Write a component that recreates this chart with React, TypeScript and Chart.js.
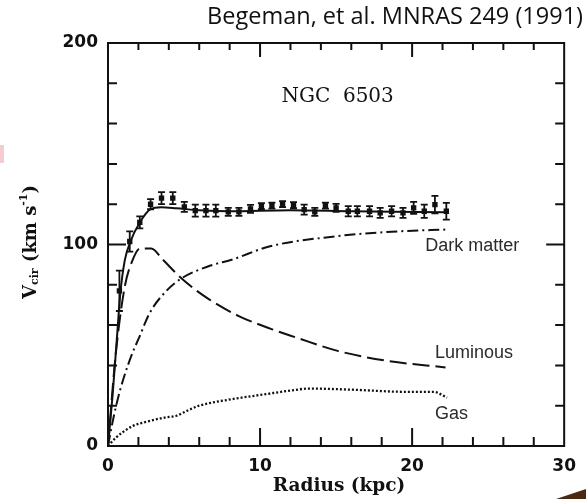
import React, { useEffect, useRef } from "react";
import { Chart, registerables } from "chart.js";

Chart.register(...registerables);

// Observed rotation curve of NGC 6503 (radius in kpc, velocity in km/s)
const RADIUS = [0.75, 1.43, 2.09, 2.8, 3.52, 4.26, 5.02, 5.74, 6.44, 7.09, 7.91, 8.61, 9.37, 10.09, 10.78, 11.48, 12.2, 12.9, 13.6, 14.3, 15.0, 15.8, 16.4, 17.2, 17.9, 18.65, 19.4, 20.1, 20.8, 21.5, 22.25];
const VELOCITY = [77, 101.5, 111, 120, 123, 123, 118.7, 116.8, 116.8, 116.8, 116.2, 116.2, 117.7, 119, 119.3, 120, 119.5, 117.3, 116.2, 119.3, 118.2, 116.5, 116.5, 116.5, 115.7, 116.5, 115.7, 118.2, 116.5, 119.8, 116.5];
const VEL_ERR = [10, 5, 3, 2.5, 3, 3, 2.5, 3, 3, 3, 2, 2, 2, 1.5, 1.5, 1.5, 1.5, 2.5, 2, 1.5, 2, 2.5, 2.5, 2.5, 2.5, 2.5, 2.5, 3, 3.3, 4.3, 4.2];

// Model components
const TOTAL_R = [0, 0.3, 0.6, 0.8, 1.1, 1.45, 2.1, 2.8, 3.5, 4.5, 6, 8, 12, 16, 22.3];
const TOTAL_V = [0, 25, 55, 75, 92, 101, 111, 117.5, 118.5, 118, 117, 116.5, 117, 116.5, 116];

const LUM_R = [0, 0.5, 1.1, 1.55, 2.1, 2.85, 3.6, 4.9, 6.65, 8.6, 10.8, 12.5, 15.1, 18.4, 22.2];
const LUM_V = [0, 45, 79, 91, 98, 98, 92.5, 82.7, 72.8, 64.5, 57.9, 53.5, 47.2, 42.2, 39];

const DARK_R = [0, 0.25, 0.6, 1.0, 1.65, 2.0, 2.74, 3.83, 4.9, 6.65, 8.2, 10.6, 14.9, 19.3, 22.2];
const DARK_V = [0, 10, 22, 33, 47, 53, 66, 76.9, 83.5, 89.3, 92.6, 99, 104, 106.6, 107.4];

const GAS_R = [0, 0.5, 1.0, 1.65, 2.5, 3.8, 4.5, 5.2, 6, 8.2, 10.35, 12, 13.2, 16.2, 19.5, 21.4, 22.3];
const GAS_V = [0, 4, 7, 10, 12, 14.2, 15, 17.5, 20, 23.3, 25.7, 27.5, 28.5, 27.9, 26.9, 26.9, 24];

// Axis ranges and tick spacing
const X_RANGE = [0, 30];
const Y_RANGE = [0, 200];
const X_MINOR = 2;
const X_MAJOR = 10;
const Y_MINOR = 20;
const Y_MAJOR = 100;

// Curve labels: [text, radius, velocity]
const CURVE_LABELS: [string, number, number][] = [
  ["Dark matter", 20.87, 99.3],
  ["Luminous", 21.5, 46.2],
  ["Gas", 21.5, 15.9],
];

const INK = "#111";

const pts = (xs: number[], ys: number[]) => xs.map((x, i) => ({ x, y: ys[i] }));

const decorations = {
  id: "decorations",
  beforeDraw(chart: any) {
    const { ctx, width, height } = chart;
    ctx.save();
    ctx.fillStyle = "#fff";
    ctx.fillRect(0, 0, width, height);
    // stray slide fragments at the edges
    ctx.fillStyle = "#f3cdd1";
    ctx.fillRect(0, 145, 4, 18);
    ctx.fillStyle = "#4a2a12";
    ctx.beginPath();
    ctx.moveTo(556, 499);
    ctx.lineTo(586, 489);
    ctx.lineTo(586, 499);
    ctx.closePath();
    ctx.fill();
    ctx.restore();
  },
  afterDatasetsDraw(chart: any) {
    const { ctx, chartArea: a, scales } = chart;
    const xs = scales.x;
    const ys = scales.y;
    ctx.save();

    // error bars
    ctx.strokeStyle = INK;
    ctx.lineWidth = 1.8;
    RADIUS.forEach((r, i) => {
      const px = xs.getPixelForValue(r);
      const t = ys.getPixelForValue(VELOCITY[i] + VEL_ERR[i]);
      const b = ys.getPixelForValue(VELOCITY[i] - VEL_ERR[i]);
      ctx.beginPath();
      ctx.moveTo(px, t);
      ctx.lineTo(px, b);
      ctx.moveTo(px - 3.5, t);
      ctx.lineTo(px + 3.5, t);
      ctx.moveTo(px - 3.5, b);
      ctx.lineTo(px + 3.5, b);
      ctx.stroke();
    });

    // frame
    ctx.lineWidth = 2;
    ctx.strokeRect(a.left, a.top, a.right - a.left, a.bottom - a.top);

    // inward ticks on all four sides
    ctx.beginPath();
    for (let v = X_RANGE[0] + X_MINOR; v < X_RANGE[1]; v += X_MINOR) {
      const px = xs.getPixelForValue(v);
      const major = v % X_MAJOR === 0;
      ctx.moveTo(px, a.bottom);
      ctx.lineTo(px, a.bottom - (major ? 18 : 9));
      ctx.moveTo(px, a.top);
      ctx.lineTo(px, a.top + (major ? 14 : 7));
    }
    for (let v = Y_RANGE[0] + Y_MINOR; v < Y_RANGE[1]; v += Y_MINOR) {
      const py = ys.getPixelForValue(v);
      const major = v % Y_MAJOR === 0;
      ctx.moveTo(a.left, py);
      ctx.lineTo(a.left + (major ? 18 : 9), py);
      ctx.moveTo(a.right, py);
      ctx.lineTo(a.right - (major ? 18 : 9), py);
    }
    ctx.stroke();

    // curve labels
    ctx.fillStyle = "#2b2b2b";
    ctx.font = "18px 'Liberation Sans', Arial, sans-serif";
    ctx.textBaseline = "middle";
    ctx.textAlign = "left";
    CURVE_LABELS.forEach(([t, r, v]) => {
      ctx.fillText(t, xs.getPixelForValue(r), ys.getPixelForValue(v));
    });

    // galaxy name
    ctx.fillStyle = INK;
    ctx.font = "20px 'DejaVu Serif', serif";
    ctx.textAlign = "center";
    ctx.fillText("NGC  6503", xs.getPixelForValue(15.1), ys.getPixelForValue(173.2));

    // x-axis title
    ctx.font = "bold 18.5px 'DejaVu Serif', serif";
    ctx.textAlign = "center";
    ctx.fillText("Radius (kpc)", 339, 486);

    // y-axis title with subscript and superscript
    const big = "bold 18px 'DejaVu Serif', serif";
    const small = "bold 11px 'DejaVu Serif', serif";
    const parts: [string, string, number][] = [
      ["V", big, 0],
      ["cir", small, 4],
      [" (km s", big, 0],
      ["-1", small, -7],
      [")", big, 0],
    ];
    let total = 0;
    parts.forEach(([t, f]) => {
      ctx.font = f;
      total += ctx.measureText(t).width;
    });
    ctx.translate(31, 242);
    ctx.rotate(-Math.PI / 2);
    ctx.textAlign = "left";
    let cx = -total / 2;
    parts.forEach(([t, f, dy]) => {
      ctx.font = f;
      ctx.fillText(t, cx, dy);
      cx += ctx.measureText(t).width;
    });
    ctx.restore();

    // citation
    ctx.save();
    ctx.fillStyle = INK;
    ctx.font = "23.5px 'Open Sans', sans-serif";
    ctx.textAlign = "right";
    ctx.textBaseline = "alphabetic";
    ctx.fillText("Begeman, et al. MNRAS 249 (1991)", 583, 24);
    ctx.restore();
  },
};

export default function App() {
  const ref = useRef<HTMLCanvasElement | null>(null);

  useEffect(() => {
    if (!ref.current) return;
    const tickFont = { family: "'DejaVu Sans', sans-serif", size: 17, weight: "bold" as const };
    const line = (data: any, dash: number[], width = 2) => ({
      data,
      showLine: true,
      borderColor: INK,
      borderWidth: width,
      borderDash: dash,
      pointRadius: 0,
      fill: false,
      cubicInterpolationMode: "monotone" as const,
    });
    const chart = new Chart(ref.current, {
      type: "scatter",
      data: {
        datasets: [
          line(pts(TOTAL_R, TOTAL_V), []),
          line(pts(LUM_R, LUM_V), [17, 6]),
          line(pts(DARK_R, DARK_V), [11, 4, 2, 4]),
          line(pts(GAS_R, GAS_V), [2, 2], 2.3),
          {
            data: pts(RADIUS, VELOCITY),
            showLine: false,
            pointStyle: "rect",
            pointRadius: 3.8,
            backgroundColor: INK,
            borderColor: INK,
            borderWidth: 0,
          },
        ],
      },
      options: {
        animation: false,
        responsive: false,
        layout: { padding: { left: 0, right: 18, top: 43, bottom: 0 } },
        plugins: { legend: { display: false }, tooltip: { enabled: false } },
        scales: {
          x: {
            type: "linear",
            min: X_RANGE[0],
            max: X_RANGE[1],
            grid: { display: false, drawTicks: false },
            border: { display: false },
            ticks: { stepSize: X_MAJOR, color: INK, font: tickFont, padding: 10, maxRotation: 0 },
            afterFit: (s: any) => {
              s.height = 53;
            },
          },
          y: {
            type: "linear",
            min: Y_RANGE[0],
            max: Y_RANGE[1],
            grid: { display: false, drawTicks: false },
            border: { display: false },
            ticks: { stepSize: Y_MAJOR, color: INK, font: tickFont, padding: 10 },
            afterFit: (s: any) => {
              s.width = 108;
            },
          },
        },
      },
      plugins: [decorations],
    });
    return () => chart.destroy();
  }, []);

  return (
    <div style={{ position: "fixed", left: 0, top: 0, width: 586, height: 499, background: "#fff" }}>
      <canvas ref={ref} width={586} height={499} />
    </div>
  );
}
